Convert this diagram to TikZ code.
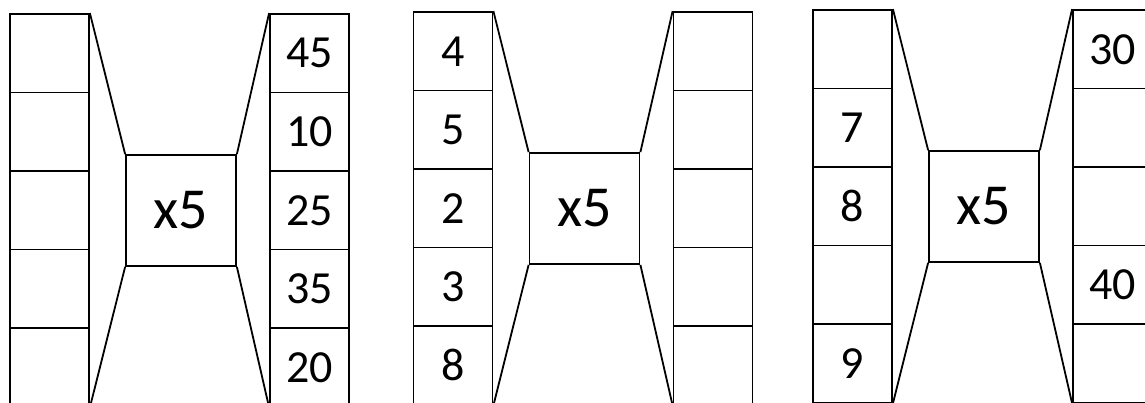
\documentclass[tikz,border=0pt]{standalone}
\usepackage{fontspec}
\setmainfont{Carlito}

\begin{document}
\begin{tikzpicture}[x=1pt,y=-1pt,line width=1.8pt,
    cell/.style={draw,minimum width=79pt,minimum height=78.5pt,inner sep=0pt,
      font=\fontsize{46}{46}\selectfont},
    mult/.style={draw,minimum width=110pt,minimum height=111pt,inner sep=0pt,
      font=\fontsize{58}{58}\selectfont}]
  \useasboundingbox (0,0) rectangle (1145,403);
  % first group
  \begin{scope}
    \foreach \i/\val in {1/{},2/{},3/{},4/{},5/{}}
      \node[cell] (a\i) at (49.5,{-25.25+78.5*\i}) {\val};
    \node[mult] (am) at (181,210.5) {x5};
    \foreach \i/\val in {1/45,2/10,3/25,4/35,5/20}
      \node[cell] (b\i) at (309.5,{-25.25+78.5*\i}) {\val};
    \draw (a1.north east) -- (am.north west) (a5.south east) -- (am.south west)
          (am.north east) -- (b1.north west) (am.south east) -- (b5.south west);
  \end{scope}
  % second group
  \begin{scope}[shift={(403.5,-2)}]
    \foreach \i/\val in {1/4,2/5,3/2,4/3,5/8}
      \node[cell] (c\i) at (49.5,{-25.25+78.5*\i}) {\val};
    \node[mult] (cm) at (181,210.5) {x5};
    \foreach \i/\val in {1/{},2/{},3/{},4/{},5/{}}
      \node[cell] (d\i) at (309.5,{-25.25+78.5*\i}) {\val};
    \draw (c1.north east) -- (cm.north west) (c5.south east) -- (cm.south west)
          (cm.north east) -- (d1.north west) (cm.south east) -- (d5.south west);
  \end{scope}
  % third group
  \begin{scope}[shift={(803,-4)}]
    \foreach \i/\val in {1/{},2/7,3/8,4/{},5/9}
      \node[cell] (e\i) at (49.5,{-25.25+78.5*\i}) {\val};
    \node[mult] (em) at (181,210.5) {x5};
    \foreach \i/\val in {1/30,2/{},3/{},4/40,5/{}}
      \node[cell] (f\i) at (309.5,{-25.25+78.5*\i}) {\val};
    \draw (e1.north east) -- (em.north west) (e5.south east) -- (em.south west)
          (em.north east) -- (f1.north west) (em.south east) -- (f5.south west);
  \end{scope}
\end{tikzpicture}
\end{document}
